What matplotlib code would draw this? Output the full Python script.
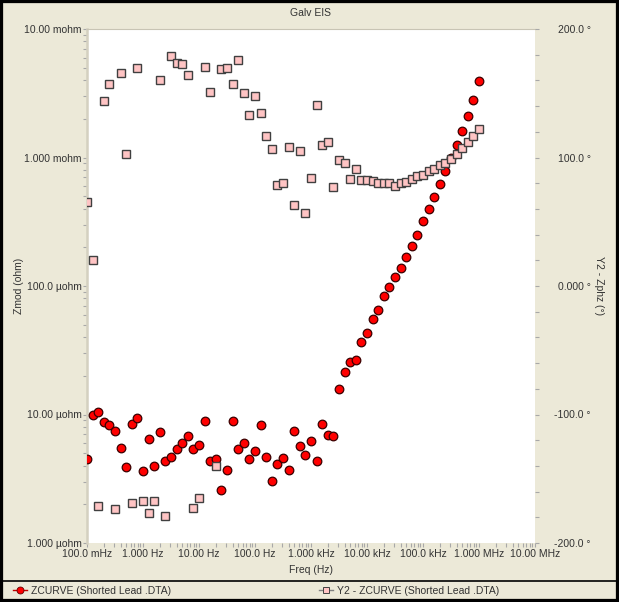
import matplotlib
matplotlib.use("Agg")
import matplotlib.pyplot as plt
from matplotlib.lines import Line2D
from matplotlib.patches import Rectangle
from matplotlib.ticker import FixedLocator, NullFormatter, LogLocator

# --- measurement data -------------------------------------------------------
freq_hz = [
    1.000e-1, 1.259e-1, 1.585e-1, 1.995e-1, 2.512e-1, 3.162e-1, 3.981e-1, 5.012e-1, 6.310e-1, 7.943e-1,
    1.000e0, 1.259e0, 1.585e0, 1.995e0, 2.512e0, 3.162e0, 3.981e0, 5.012e0, 6.310e0, 7.943e0,
    1.000e1, 1.259e1, 1.585e1, 1.995e1, 2.512e1, 3.162e1, 3.981e1, 5.012e1, 6.310e1, 7.943e1,
    1.000e2, 1.259e2, 1.585e2, 1.995e2, 2.512e2, 3.162e2, 3.981e2, 5.012e2, 6.310e2, 7.943e2,
    1.000e3, 1.259e3, 1.585e3, 1.995e3, 2.512e3, 3.162e3, 3.981e3, 5.012e3, 6.310e3, 7.943e3,
    1.000e4, 1.259e4, 1.585e4, 1.995e4, 2.512e4, 3.162e4, 3.981e4, 5.012e4, 6.310e4, 7.943e4,
    1.000e5, 1.259e5, 1.585e5, 1.995e5, 2.512e5, 3.162e5, 3.981e5, 5.012e5, 6.310e5, 7.943e5,
    1.000e6,
]

zmod_uohm = [
    4.48, 9.91, 10.4, 8.70, 8.33, 7.40, 5.45, 3.88, 8.44, 9.40,
    3.61, 6.45, 4.00, 7.27, 4.32, 4.65, 5.39, 6.00, 6.76, 5.39,
    5.82, 8.95, 4.32, 4.51, 2.57, 3.68, 8.95, 5.39, 6.00, 4.51,
    5.23, 8.33, 4.65, 3.02, 4.12, 4.58, 3.72, 7.48, 5.66, 4.86,
    6.25, 4.32, 8.44, 6.97, 6.84, 15.7, 21.4, 25.6, 26.7, 36.6,
    43.1, 55.0, 65.3, 84.1, 98.8, 117.0, 139.0, 169.0, 206.0, 251.0,
    318.0, 396.0, 496.0, 619.0, 785.0, 990.0, 1260.0, 1600.0, 2110.0, 2820.0,
    3920.0,
]

zphz_deg = [
    65.4, 20.2, -171.4, 143.7, 157.2, -173.3, 165.5, 102.7, -168.9, 169.4,
    -167.3, -176.7, -167.3, 160.3, -179.0, 178.8, 173.3, 172.8, 164.2, -172.8,
    -165.0, 170.2, 150.7, -140.3, 168.9, 169.4, 157.2, 175.9, 150.0, 133.3,
    147.9, 134.6, 116.5, 106.8, 78.4, 79.9, 108.4, 63.0, 105.1, 57.0,
    83.8, 141.1, 109.5, 112.1, 76.8, 98.1, 96.0, 83.0, 90.8, 82.3,
    82.3, 81.7, 79.9, 79.9, 79.9, 77.8, 80.4, 80.7, 83.0, 85.4,
    86.6, 89.3, 90.8, 93.9, 96.0, 98.6, 102.5, 107.4, 112.1, 117.0,
    122.2,
]

x_ticks = [1e-1, 1e0, 1e1, 1e2, 1e3, 1e4, 1e5, 1e6, 1e7]
x_labels = ["100.0 mHz", "1.000 Hz", "10.00 Hz", "100.0 Hz", "1.000 kHz",
            "10.00 kHz", "100.0 kHz", "1.000 MHz", "10.00 MHz"]
z_ticks = [1e-6, 1e-5, 1e-4, 1e-3, 1e-2]
z_labels = ["1.000 µohm", "10.00 µohm", "100.0 µohm", "1.000 mohm", "10.00 mohm"]
p_ticks = [-200, -100, 0, 100, 200]
p_labels = ["-200.0 °", "-100.0 °", "0.000 °", "100.0 °", "200.0 °"]

zmod_ohm = [v * 1e-6 for v in zmod_uohm]

# --- styling ----------------------------------------------------------------
BG = "#ECE9D8"
TXT = "#333333"
TICK = "#A8A8A8"
plt.rcParams["font.family"] = ["Liberation Sans", "DejaVu Sans"]
FS = 7.5

W, H = 619, 602
fig = plt.figure(figsize=(W / 100, H / 100), dpi=100, facecolor=BG)

L, R, T, B = 87, 535, 29, 543
ax = fig.add_axes([L / W, 1 - B / H, (R - L) / W, (B - T) / H])
ax.set_facecolor("white")
ax2 = ax.twinx()

# impedance magnitude (left axis)
ax.plot(freq_hz, zmod_ohm, linestyle="none", marker="o", markersize=6.2,
        markerfacecolor="#FF0000", markeredgecolor="#3A0000",
        markeredgewidth=0.9, zorder=3)
ax.set_xscale("log")
ax.set_yscale("log")
ax.set_xlim(1e-1, 1e7)
ax.set_ylim(1e-6, 1e-2)

# phase (right axis) drawn above the magnitude series
ax2.plot(freq_hz, zphz_deg, linestyle="none", marker="s", markersize=5.6,
         markerfacecolor="#FFC4C4", markeredgecolor="#404040",
         markeredgewidth=1.0, zorder=3)
ax2.set_ylim(-200, 200)
ax.set_zorder(ax2.get_zorder() - 1)
ax.patch.set_visible(True)
ax2.patch.set_visible(False)

# ticks
ax.xaxis.set_major_locator(FixedLocator(x_ticks))
ax.set_xticklabels(x_labels)
ax.xaxis.set_minor_locator(LogLocator(base=10, subs=range(2, 10), numticks=20))
ax.xaxis.set_minor_formatter(NullFormatter())
ax.yaxis.set_major_locator(FixedLocator(z_ticks))
ax.set_yticklabels(z_labels)
ax.yaxis.set_minor_locator(LogLocator(base=10, subs=range(2, 10), numticks=20))
ax.yaxis.set_minor_formatter(NullFormatter())

ax2.yaxis.set_major_locator(FixedLocator(p_ticks))
ax2.set_yticklabels(p_labels)
ax2.yaxis.set_minor_locator(FixedLocator(list(range(-180, 200, 20))))

for a in (ax, ax2):
    a.tick_params(which="both", direction="out", color=TICK, width=0.8,
                  labelsize=FS, labelcolor=TXT)
    a.tick_params(which="major", length=3)
    a.tick_params(which="minor", length=3)
    for s in a.spines.values():
        s.set_visible(False)

ax.tick_params(axis="x", pad=1.5)
ax.tick_params(axis="y", pad=1.0)
ax2.tick_params(axis="y", pad=37)
for lbl in ax2.get_yticklabels():
    lbl.set_horizontalalignment("right")

# plot-area edges: light top and left borders
ax.spines["top"].set_visible(True)
ax.spines["top"].set_color("#C8C4B4")
ax.spines["left"].set_visible(True)
ax.spines["left"].set_color("#D4D0C0")
ax.spines["left"].set_linewidth(1.8)

# titles and axis labels
fig.text((L + R) / 2 / W, 1 - 13 / H, "Galv EIS", ha="center", va="center",
         fontsize=FS, color=TXT)
fig.text((L + R) / 2 / W, 1 - 570 / H, "Freq (Hz)", ha="center", va="center",
         fontsize=FS, color=TXT)
fig.text(19 / W, 1 - 286 / H, "Zmod (ohm)", ha="center", va="center",
         rotation=90, fontsize=FS, color=TXT)
fig.text(599 / W, 1 - 286 / H, "Y2 - Zphz (°)", ha="center", va="center",
         rotation=270, fontsize=FS, color=TXT)

# legend strip
fig.add_artist(Line2D([0, 1], [1 - 581 / H, 1 - 581 / H], transform=fig.transFigure,
                      color="black", linewidth=1.2))
h1 = Line2D([], [], color="#C00000", linewidth=1.0, marker="o", markersize=5,
            markerfacecolor="#FF0000", markeredgecolor="#600000", markeredgewidth=0.6)
h2 = Line2D([], [], color="#808080", linewidth=1.0, marker="s", markersize=5,
            markerfacecolor="#FFC4C4", markeredgecolor="#404040", markeredgewidth=0.7)
leg1 = fig.legend(handles=[h1], labels=["ZCURVE (Shorted Lead .DTA)"],
                  loc="center left", bbox_to_anchor=(8 / W, 1 - 591 / H),
                  frameon=False, fontsize=FS, handlelength=1.3, handletextpad=0.4,
                  borderpad=0, labelcolor=TXT)
leg2 = fig.legend(handles=[h2], labels=["Y2 - ZCURVE (Shorted Lead .DTA)"],
                  loc="center left", bbox_to_anchor=(314 / W, 1 - 591 / H),
                  frameon=False, fontsize=FS, handlelength=1.3, handletextpad=0.4,
                  borderpad=0, labelcolor=TXT)

# outer frame
fig.add_artist(Rectangle((0, 0), 1, 1, transform=fig.transFigure, fill=False,
                         edgecolor="black", linewidth=4.5))

fig.savefig("out.png", dpi=100, facecolor=BG)
